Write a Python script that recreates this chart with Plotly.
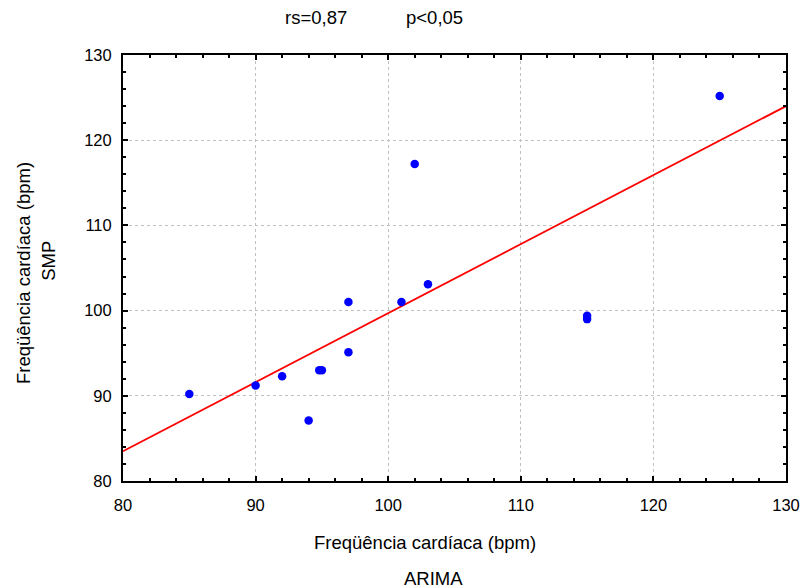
import plotly.graph_objects as go

# Data
arima = [85, 90, 92, 94, 94.8, 95, 97, 97, 101, 102, 103, 115, 115, 125]
smp = [90.2, 91.2, 92.3, 87.1, 93.0, 93.0, 101.0, 95.1, 101.0, 117.2, 103.1, 99.0, 99.4, 125.2]
fit_x = [80, 130]
fit_y = [83.5, 124.0]

W, H = 812, 588
L, R, T, B = 123, 793, 55, 481

def px(x):
    return (x - L) / (R - L)

def py(y):
    return (B - y) / (B - T)

FONT = "Liberation Sans, Arial, sans-serif"

fig = go.Figure()
fig.add_trace(go.Scatter(x=fit_x, y=fit_y, mode="lines",
                         line=dict(color="#ff0000", width=1.8), showlegend=False))
fig.add_trace(go.Scatter(x=arima, y=smp, mode="markers",
                         marker=dict(color="#0000ff", size=8.5, line=dict(width=0)),
                         showlegend=False))

axis_common = dict(
    showline=True, linecolor="black", linewidth=2, mirror="allticks",
    ticks="inside", ticklen=5, tickwidth=1.5, tickcolor="black",
    showgrid=True, gridcolor="#c0c0c0", griddash="3px,3px", gridwidth=1,
    zeroline=False, dtick=10,
    tickfont=dict(family=FONT, size=16.5, color="black"),
    minor=dict(dtick=2, ticks="inside", ticklen=3, tickwidth=1.5, tickcolor="black", showgrid=False),
)

fig.update_xaxes(range=[80, 130], tick0=80, ticklabelstandoff=8, **axis_common)
fig.update_yaxes(range=[80, 130], tick0=80, ticklabelstandoff=6, **axis_common)

ann = []
def add(text, x, y, angle=0, size=18.5):
    ann.append(dict(text=text, x=px(x), y=py(y), xref="paper", yref="paper",
                    showarrow=False, textangle=angle,
                    font=dict(family=FONT, size=size, color="black"),
                    xanchor="center", yanchor="middle"))

add("rs=0,87", 318, 18)
add("p<0,05", 438, 18)
add("Freqüência cardíaca (bpm)", 428, 542)
add("ARIMA", 437, 578)
add("Freqüência cardíaca (bpm)", 22, 273, angle=-90)
add("SMP", 47, 261, angle=-90)

fig.update_layout(
    width=W, height=H,
    margin=dict(l=L, r=W - R, t=T, b=H - B),
    plot_bgcolor="white", paper_bgcolor="white",
    annotations=ann,
    showlegend=False,
)

fig.write_html("out.html")
